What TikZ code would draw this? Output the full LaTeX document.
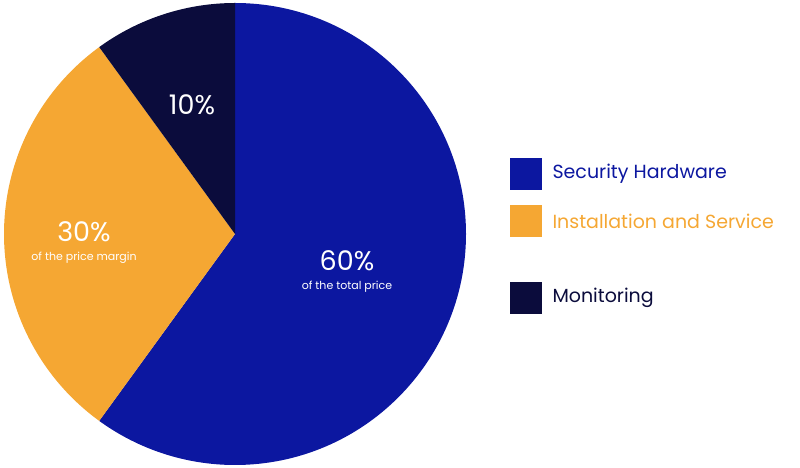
\documentclass[tikz,border=0pt]{standalone}
\usepackage{fontspec}
\setmainfont{Poppins}
\definecolor{cblue}{HTML}{0C17A0}
\definecolor{corange}{HTML}{F5A733}
\definecolor{cdark}{HTML}{0B0C3C}
\begin{document}
\begin{tikzpicture}[x=1pt,y=1pt,
  big/.style={text=white,font=\fontsize{27}{30}\selectfont},
  small/.style={text=white,font=\fontsize{11}{13}\selectfont},
  sq/.style={minimum size=32pt,inner sep=0pt},
  leg/.style={anchor=west,font=\fontsize{19}{22}\selectfont}]
\useasboundingbox (0,0) rectangle (800,468);
\coordinate (c) at (235,234);
\fill[cblue] (c) -- ++(90:231) arc[start angle=90,end angle=-126,radius=231] -- cycle;
\fill[corange] (c) -- ++(-126:231) arc[start angle=-126,end angle=-234,radius=231] -- cycle;
\fill[cdark] (c) -- ++(126:231) arc[start angle=126,end angle=90,radius=231] -- cycle;
\node[big] (p60) at (347,207) {60\%};
\node[small] (t60) at (347,181) {of the total price};
\node[big] (p30) at (84,236) {30\%};
\node[small] (t30) at (84,210) {of the price margin};
\node[big] (p10) at (192,363) {10\%};
\node[sq,fill=cblue] (s1) at (526,294) {};
\node[leg,text=cblue] (l1) at (549,294) {Security Hardware};
\node[sq,fill=corange] (s2) at (526,247) {};
\node[leg,text=corange] (l2) at (549,247) {Installation and Service};
\node[sq,fill=cdark] (s3) at (526,170) {};
\node[leg,text=cdark] (l3) at (549,170) {Monitoring};
\end{tikzpicture}
\end{document}
